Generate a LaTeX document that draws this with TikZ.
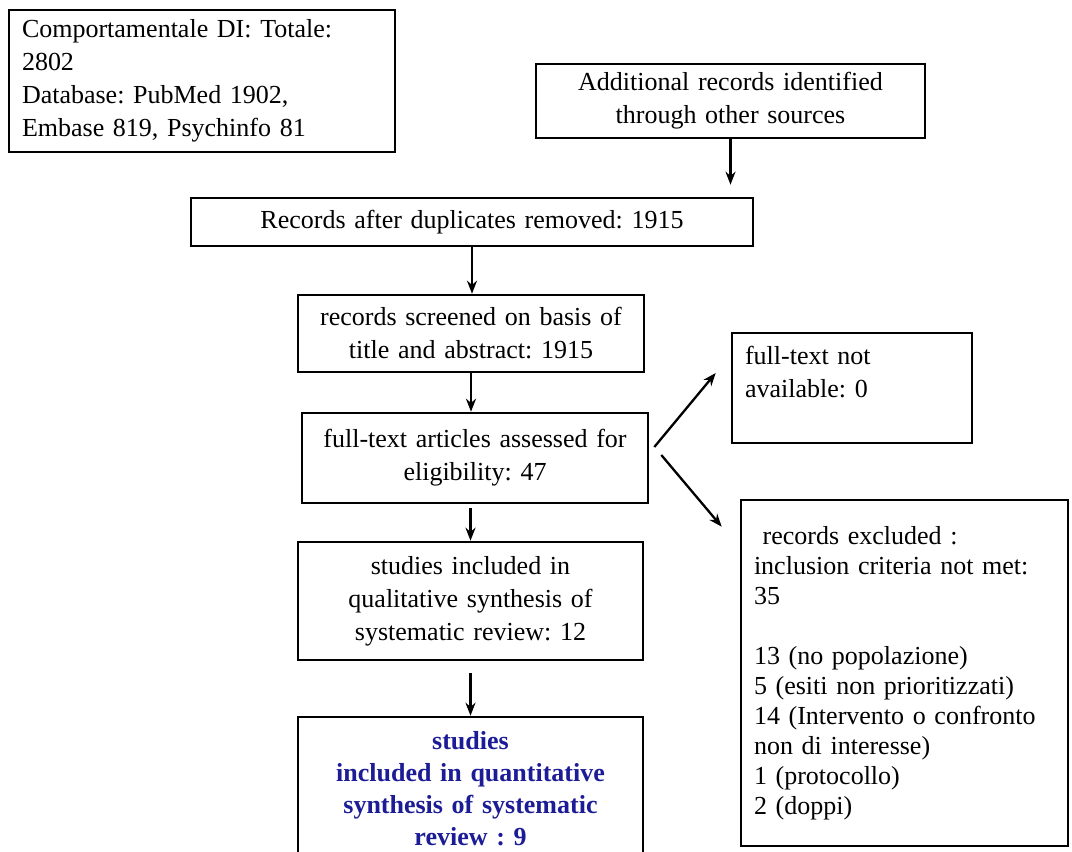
\documentclass[tikz,border=0pt]{standalone}
\usepackage{fontspec}
\setmainfont{Liberation Serif}
\usepackage{tikz}
\usetikzlibrary{positioning, arrows.meta, calc}
\definecolor{inclblue}{RGB}{28,28,150}
\frenchspacing

\begin{document}
\begin{tikzpicture}[x=1pt, y=-1pt, >={Stealth[length=13pt, width=10pt]},
  box/.style={draw, line width=2.6pt, inner xsep=13pt, inner ysep=0pt,
    font=\fontsize{26}{33}\selectfont},
  flow/.style={->, line width=2.3pt}]

\useasboundingbox (0,0) rectangle (1072,852);

% --- Identification ---
\node[box, align=left, text width=360, minimum height=142] (dbsearch) at (202,81)
  {Comportamentale DI: Totale:\\2802\\Database: PubMed 1902,\\Embase 819, Psychinfo 81};
\node[box, align=center, text width=363, minimum height=74] (othersrc) at (730.5,101)
  {Additional records identified\\through other sources};

% --- Screening column ---
\node[box, align=center, text width=536, minimum height=48] (dedup) at (472,222)
  {Records after duplicates removed: 1915};
\node[box, align=center, text width=320, minimum height=77] (screened) at (471,333.5)
  {records screened on basis of\\title and abstract: 1915};
\node[box, align=center, text width=320, minimum height=90] (fulltext) at (475,458)
  {full-text articles assessed for\\eligibility: 47};
\node[box, align=center, text width=319, minimum height=118] (qualit) at (470.5,601)
  {studies included in\\qualitative synthesis of\\systematic review: 12};
\node[box, align=center, text width=319, minimum height=144,
  text=inclblue, font=\fontsize{26}{32}\selectfont\bfseries] (quantit) at (470.5,789)
  {studies\\included in quantitative\\synthesis of systematic\\review : 9};

% --- Exclusions ---
\node[box, align=left, text width=214, minimum height=110] (notavail) at (852,388)
  {full-text not\\available: 0\\\mbox{}};
\node[box, align=left, text width=301, minimum height=346,
  font=\fontsize{26}{30}\selectfont] (excluded) at (904.5,673)
  {\ records excluded :\\inclusion criteria not met:\\35\\\mbox{}\\13 (no popolazione)\\
   5 (esiti non prioritizzati)\\14 (Intervento o confronto\\non di interesse)\\
   1 (protocollo)\\2 (doppi)};

% --- Arrows ---
\draw[flow, shorten >=12pt] (othersrc.south) -- (othersrc.south |- dedup.north);
\draw[flow] (dedup.south) -- (dedup.south |- screened.north);
\draw[flow] (screened.south) -- (screened.south |- fulltext.north);
\draw[flow, shorten <=4pt] (fulltext.south -| qualit.north) -- (qualit.north);
\draw[flow, shorten <=12pt] (qualit.south) -- (quantit.north);
\draw[flow] ($(fulltext.east)+(5,-11)$) -- ($(notavail.west)+(-15,-15)$);
\draw[flow] ($(fulltext.east)+(12,-3)$) -- ($(excluded.north west)+(-18,28)$);

\end{tikzpicture}
\end{document}
